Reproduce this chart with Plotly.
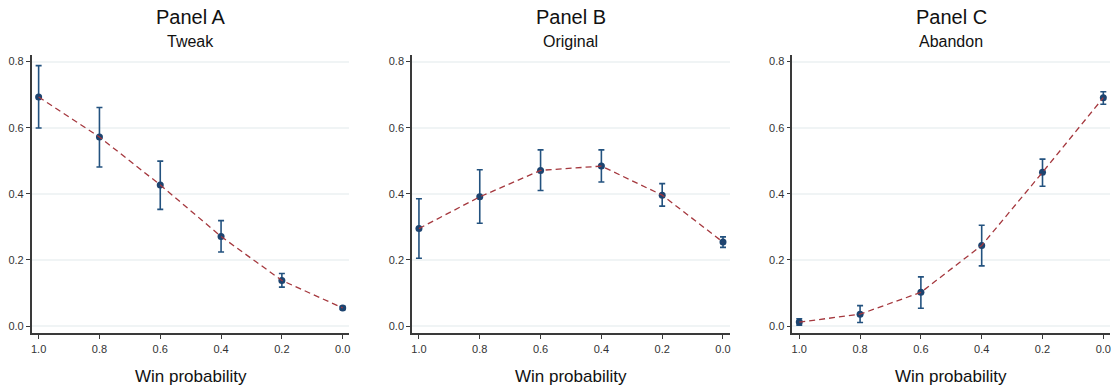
import plotly.graph_objects as go

win_prob = [1.0, 0.8, 0.6, 0.4, 0.2, 0.0]
x_ticks = [1.0, 0.8, 0.6, 0.4, 0.2, 0.0]
x_tick_labels = ["1.0", "0.8", "0.6", "0.4", "0.2", "0.0"]
y_ticks = [0.0, 0.2, 0.4, 0.6, 0.8]
y_tick_labels = ["0.0", "0.2", "0.4", "0.6", "0.8"]

panel_titles = ["Panel A", "Panel B", "Panel C"]
panel_subtitles = ["Tweak", "Original", "Abandon"]
x_title = "Win probability"

tweak_mean = [0.693, 0.572, 0.427, 0.271, 0.138, 0.055]
tweak_hi = [0.788, 0.661, 0.499, 0.319, 0.159, 0.060]
tweak_lo = [0.599, 0.481, 0.353, 0.224, 0.118, 0.050]

original_mean = [0.295, 0.391, 0.471, 0.484, 0.396, 0.254]
original_hi = [0.385, 0.473, 0.533, 0.533, 0.431, 0.270]
original_lo = [0.205, 0.311, 0.410, 0.436, 0.363, 0.238]

abandon_mean = [0.012, 0.036, 0.102, 0.244, 0.465, 0.691]
abandon_hi = [0.022, 0.062, 0.149, 0.305, 0.505, 0.709]
abandon_lo = [0.003, 0.011, 0.054, 0.182, 0.423, 0.671]

panels = [
    (tweak_mean, tweak_hi, tweak_lo),
    (original_mean, original_hi, original_lo),
    (abandon_mean, abandon_hi, abandon_lo),
]

W, H = 1111, 389
x_domains_px = [(30.7, 349.0), (411.7, 730.0), (792.7, 1111.0)]
y_domain_px = (55.0, 332.7)  # top, bottom in pixels

marker_color = "#1d4470"
err_color = "#23527f"
line_color = "#a5383e"
grid_color = "#f0f4f5"
axis_color = "#3a3a3a"
font_family = "Liberation Sans, Arial, Helvetica, sans-serif"

fig = go.Figure()
annotations = []
layout_axes = {}

ydom = [(H - y_domain_px[1]) / H, (H - y_domain_px[0]) / H]

for i, (mean, hi, lo) in enumerate(panels):
    n = "" if i == 0 else str(i + 1)
    xa = "x" + n
    ya = "y" + n
    err_plus = [h - m for h, m in zip(hi, mean)]
    err_minus = [m - l for m, l in zip(mean, lo)]
    fig.add_trace(go.Scatter(
        x=win_prob, y=mean, mode="markers",
        marker=dict(color=marker_color, size=7),
        error_y=dict(type="data", symmetric=False, array=err_plus, arrayminus=err_minus,
                     color=err_color, thickness=1.6, width=3),
        xaxis=xa, yaxis=ya, showlegend=False, hoverinfo="skip",
    ))
    fig.add_trace(go.Scatter(
        x=win_prob, y=mean, mode="lines",
        line=dict(color=line_color, width=1.3, dash="6px,4px"),
        xaxis=xa, yaxis=ya, showlegend=False, hoverinfo="skip",
    ))
    x0, x1 = x_domains_px[i]
    xdom = [x0 / W, min(x1 / W, 1.0)]
    layout_axes["xaxis" + n] = dict(
        domain=xdom, anchor=ya, range=[1.023, -0.022],
        tickvals=x_ticks, ticktext=x_tick_labels,
        showgrid=False, zeroline=False, showline=True, linecolor=axis_color, linewidth=1.5,
        ticks="outside", ticklen=5, tickwidth=1, tickcolor=axis_color,
        tickfont=dict(size=11, color="#333333", family=font_family),
    )
    layout_axes["yaxis" + n] = dict(
        domain=ydom, anchor=xa, range=[-0.02, 0.82],
        tickvals=y_ticks, ticktext=y_tick_labels,
        showgrid=True, gridcolor=grid_color, gridwidth=1.5,
        zeroline=False, showline=True, linecolor=axis_color, linewidth=1.5,
        ticks="outside", ticklen=4, tickwidth=1, tickcolor=axis_color,
        tickfont=dict(size=11, color="#333333", family=font_family),
    )
    cx = ((x0 + x1) / 2) / W
    annotations.append(dict(text=panel_titles[i], x=cx, y=1 - 17 / H, xref="paper", yref="paper",
                            xanchor="center", yanchor="middle", showarrow=False,
                            font=dict(size=20, color="#111111", family=font_family)))
    annotations.append(dict(text=panel_subtitles[i], x=cx, y=1 - 41.5 / H, xref="paper", yref="paper",
                            xanchor="center", yanchor="middle", showarrow=False,
                            font=dict(size=16, color="#111111", family=font_family)))
    annotations.append(dict(text=x_title, x=cx, y=1 - 376 / H, xref="paper", yref="paper",
                            xanchor="center", yanchor="middle", showarrow=False,
                            font=dict(size=17, color="#111111", family=font_family)))

fig.update_layout(
    width=W, height=H,
    margin=dict(l=0, r=0, t=0, b=0),
    paper_bgcolor="white", plot_bgcolor="white",
    annotations=annotations,
    **layout_axes,
)

fig.write_html("out.html", config={"displayModeBar": False})
